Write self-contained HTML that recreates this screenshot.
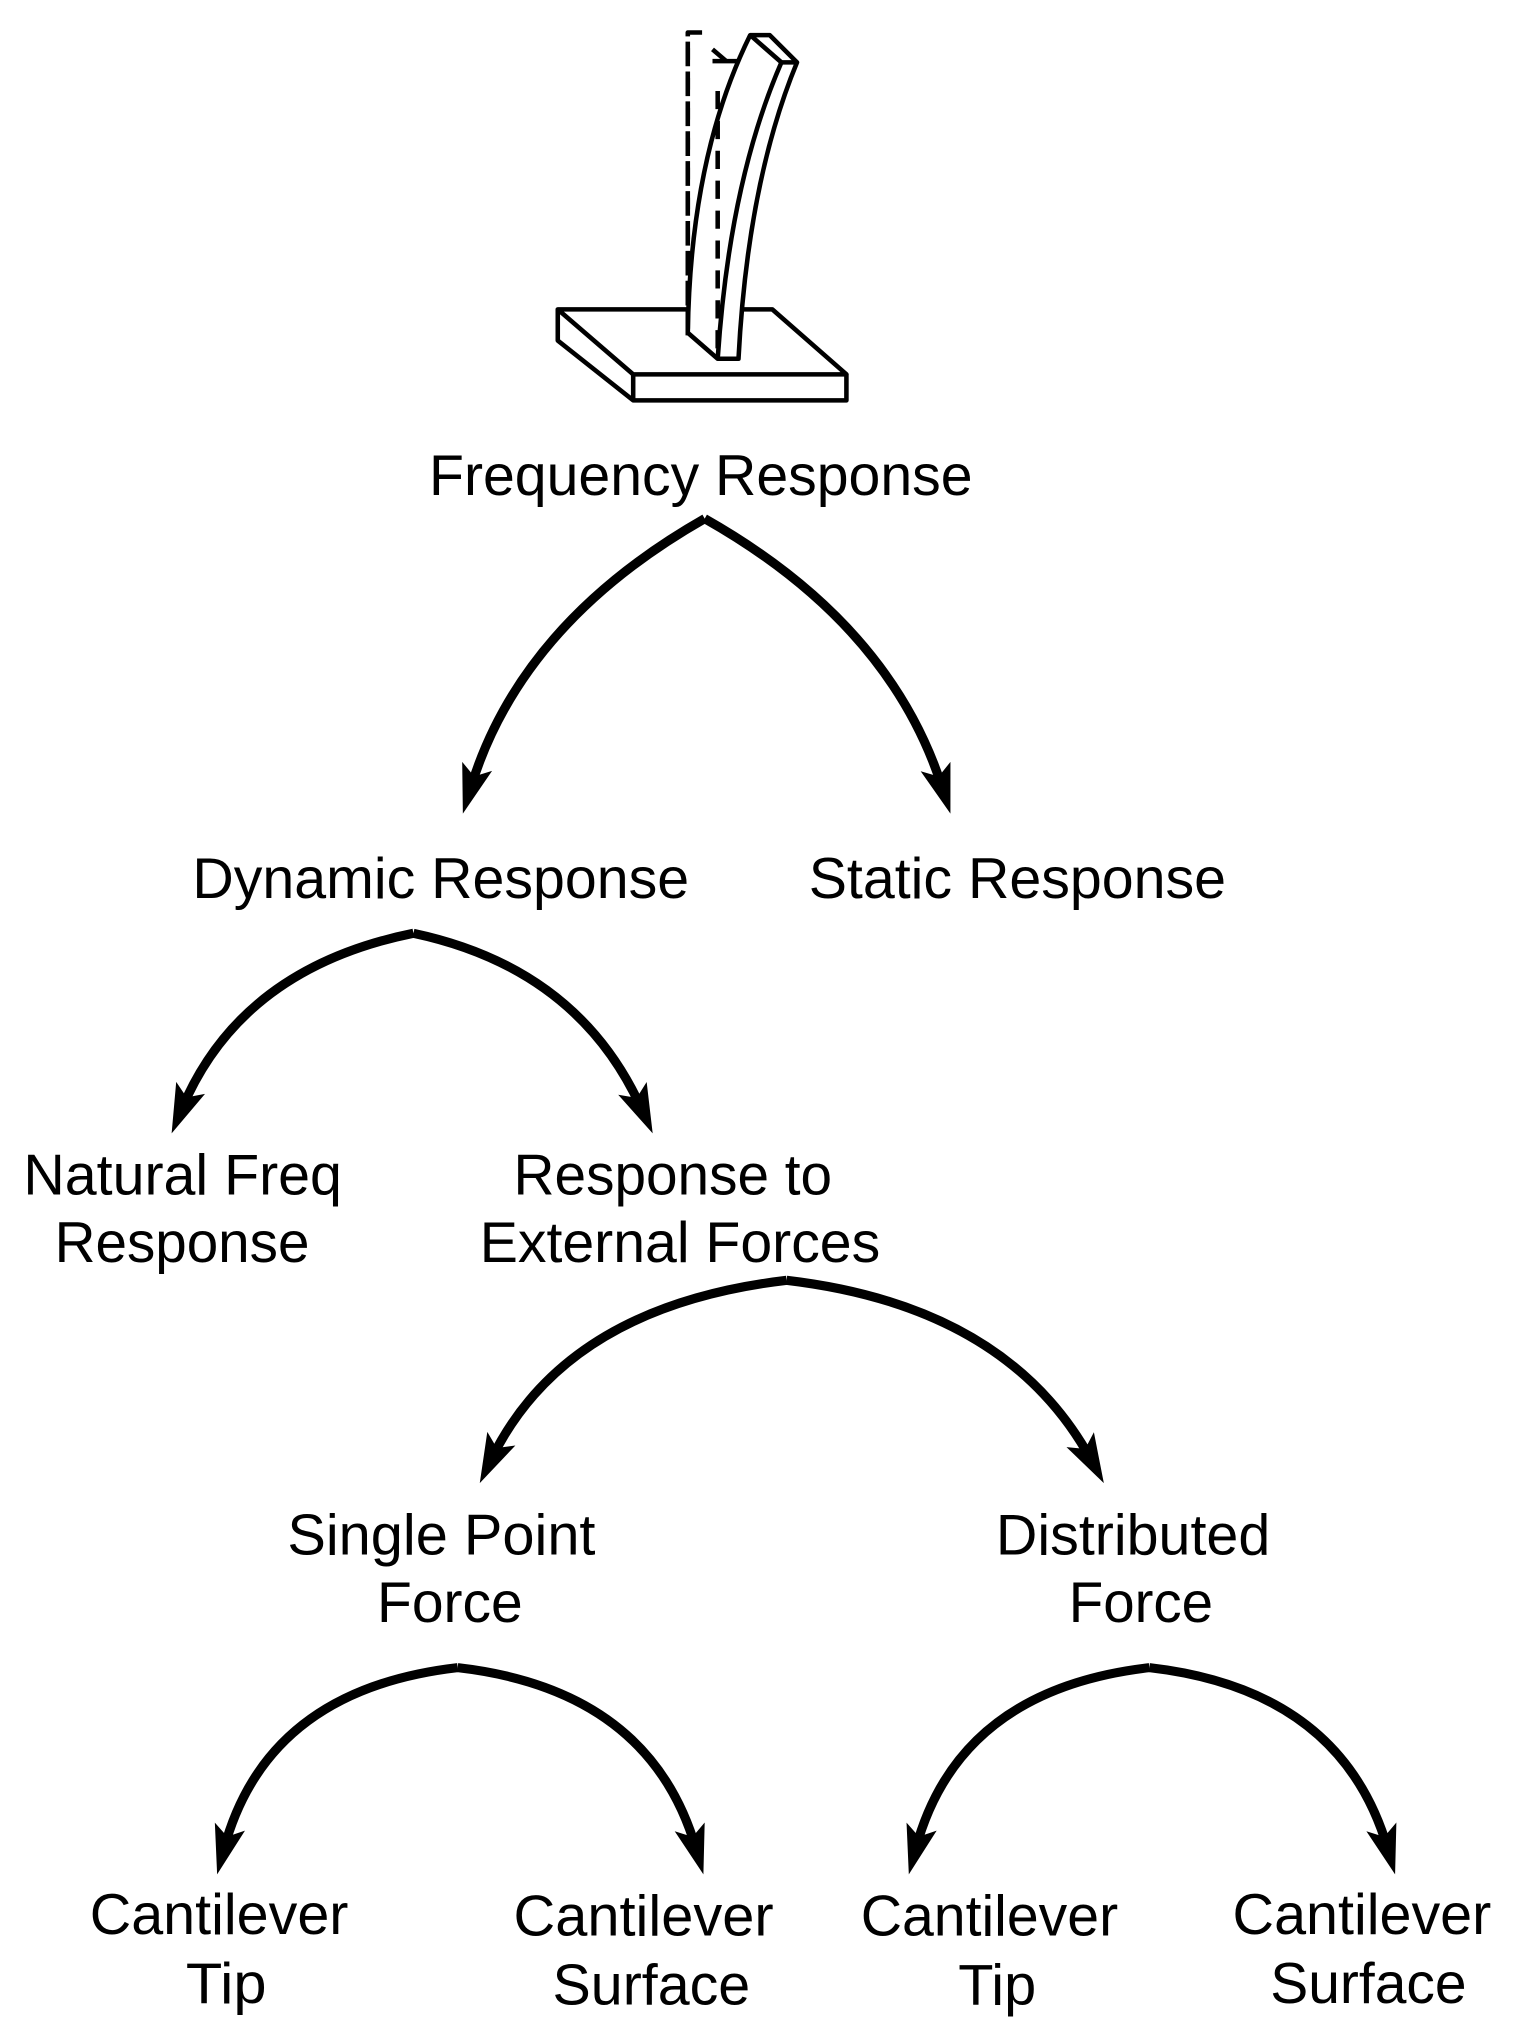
<!DOCTYPE html>
<html><head><meta charset="utf-8"><style>
html,body{margin:0;padding:0;background:#fff;}
svg{display:block;}
text{font-family:"Liberation Sans",Arial,sans-serif;font-size:44px;fill:#000;}
</style></head><body>
<svg width="1516" height="2042" viewBox="0 0 1166 1571" preserveAspectRatio="none" xmlns="http://www.w3.org/2000/svg">
<!-- cantilever drawing -->
<g fill="none" stroke="#000" stroke-width="3.5" stroke-linejoin="round">
<path d="M429,238 L594,238 L651,288 L487,288 L429,238 Z" fill="#fff"/>
<path d="M429,238 L429,262 L487,308 L651,308 L651,288"/>
<path d="M487,288 L487,308"/>
<path d="M529,258 L529,25 L545,25 M548,38 L568,55 L569,258" stroke-dasharray="14,9"/>
<path d="M548,47 L568,47" />
<path d="M529,256 Q531,120 577,27 L592,27 L613,48 Q575,140 568,276 L552,276 L529,256 Z" fill="#fff"/>
<path d="M577,27 L601,48 Q561,140 552,276"/>
<path d="M601,48 L613,48"/>
<path d="M529,32 L529,256" stroke-dasharray="14,9"/>
<path d="M552,70 L552,270" stroke-dasharray="14,9"/>
</g>
<!-- arrows -->
<g fill="none" stroke="#000" stroke-width="7" stroke-linejoin="round">
<path d="M542,399 Q400,480 361.8,606.9"/>
<path d="M542,399 Q685,480 725,606.9"/>
<path d="M318,718 Q185,745 139.7,853.5"/>
<path d="M318,718 Q445,745 493.8,853.8"/>
<path d="M605,985 Q435,1005 377.7,1123"/>
<path d="M605,985 Q775,1005 839.4,1123.4"/>
<path d="M352,1283 Q205,1300 172.2,1422.7"/>
<path d="M352,1283 Q500,1300 535.5,1422.8"/>
<path d="M884,1283 Q737,1300 704.2,1422.7"/>
<path d="M884,1283 Q1032,1300 1067.5,1422.8"/>
</g>
<g fill="#000">
<path transform="translate(356,626) rotate(106.8)" d="M0,0 L-38,-12 L-30,0 L-38,12 Z"/>
<path transform="translate(731,626) rotate(72.5)" d="M0,0 L-38,-12 L-30,0 L-38,12 Z"/>
<path transform="translate(132,872) rotate(112.6)" d="M0,0 L-38,-12 L-30,0 L-38,12 Z"/>
<path transform="translate(502,872) rotate(65.8)" d="M0,0 L-38,-12 L-30,0 L-38,12 Z"/>
<path transform="translate(369,1141) rotate(115.9)" d="M0,0 L-38,-12 L-30,0 L-38,12 Z"/>
<path transform="translate(849,1141) rotate(61.4)" d="M0,0 L-38,-12 L-30,0 L-38,12 Z"/>
<path transform="translate(167,1442) rotate(105)" d="M0,0 L-38,-12 L-30,0 L-38,12 Z"/>
<path transform="translate(541,1442) rotate(73.9)" d="M0,0 L-38,-12 L-30,0 L-38,12 Z"/>
<path transform="translate(699,1442) rotate(105)" d="M0,0 L-38,-12 L-30,0 L-38,12 Z"/>
<path transform="translate(1073,1442) rotate(73.9)" d="M0,0 L-38,-12 L-30,0 L-38,12 Z"/>
</g>
<!-- labels -->
<text x="330" y="381" textLength="418" lengthAdjust="spacingAndGlyphs">Frequency Response</text>
<text x="148" y="691" textLength="382" lengthAdjust="spacingAndGlyphs">Dynamic Response</text>
<text x="622" y="691" textLength="321" lengthAdjust="spacingAndGlyphs">Static Response</text>
<text x="18" y="919" textLength="245" lengthAdjust="spacingAndGlyphs">Natural Freq</text>
<text x="42" y="971" textLength="196" lengthAdjust="spacingAndGlyphs">Response</text>
<text x="395" y="919" textLength="245" lengthAdjust="spacingAndGlyphs">Response to</text>
<text x="369" y="971" textLength="308" lengthAdjust="spacingAndGlyphs">External Forces</text>
<text x="221" y="1196" textLength="237" lengthAdjust="spacingAndGlyphs">Single Point</text>
<text x="290" y="1248" textLength="112" lengthAdjust="spacingAndGlyphs">Force</text>
<text x="766" y="1196" textLength="211" lengthAdjust="spacingAndGlyphs">Distributed</text>
<text x="822" y="1248" textLength="111" lengthAdjust="spacingAndGlyphs">Force</text>
<text x="69" y="1488" textLength="199" lengthAdjust="spacingAndGlyphs">Cantilever</text>
<text x="143" y="1541" textLength="62" lengthAdjust="spacingAndGlyphs">Tip</text>
<text x="395" y="1489" textLength="200" lengthAdjust="spacingAndGlyphs">Cantilever</text>
<text x="425" y="1542" textLength="152" lengthAdjust="spacingAndGlyphs">Surface</text>
<text x="662" y="1489" textLength="198" lengthAdjust="spacingAndGlyphs">Cantilever</text>
<text x="737" y="1542" textLength="60" lengthAdjust="spacingAndGlyphs">Tip</text>
<text x="948" y="1488" textLength="199" lengthAdjust="spacingAndGlyphs">Cantilever</text>
<text x="977" y="1541" textLength="151" lengthAdjust="spacingAndGlyphs">Surface</text>
</svg>
</body></html>
